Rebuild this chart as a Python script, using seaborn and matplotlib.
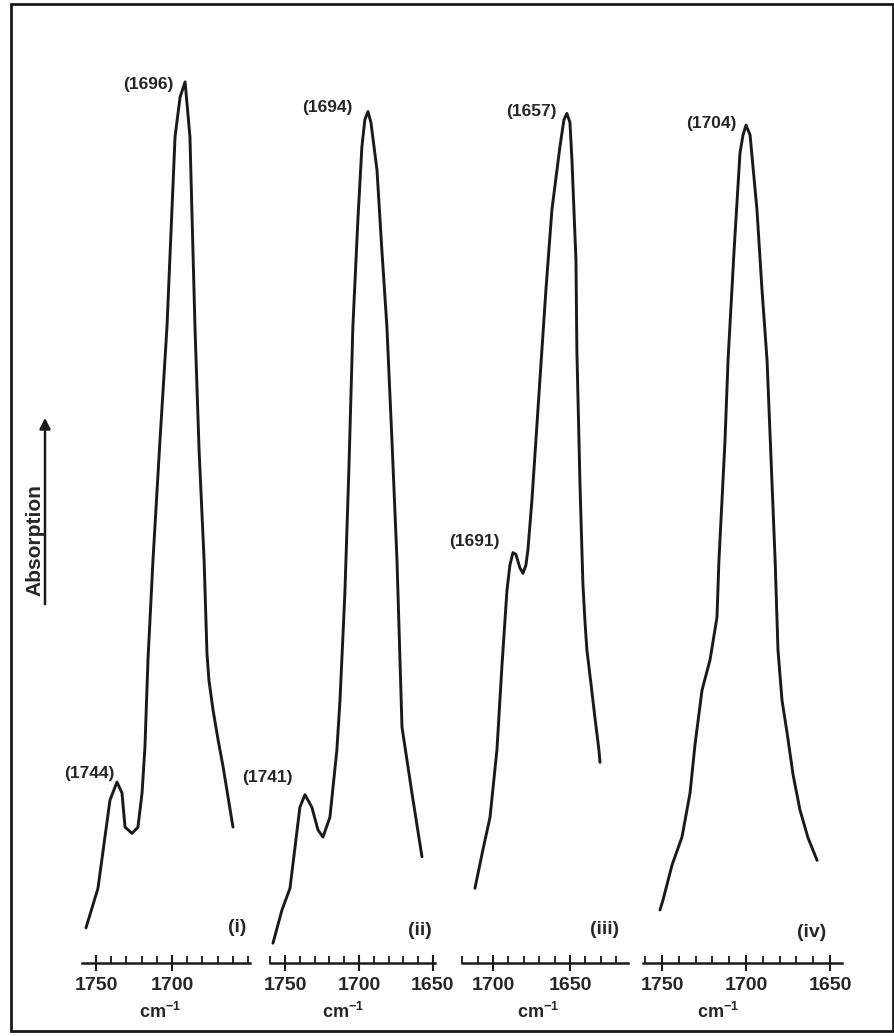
import numpy as np
import pandas as pd
import matplotlib
matplotlib.use("Agg")
import matplotlib.pyplot as plt
import seaborn as sns
from matplotlib.patches import Rectangle, FancyArrowPatch
from matplotlib.ticker import FixedLocator, MultipleLocator

# Spectra: wavenumber (cm-1) and absorption (arbitrary units, 0-100)
wn_i = [1756.6, 1748.7, 1740.8, 1736.2, 1732.9, 1730.9, 1726.3, 1722.4, 1719.7, 1717.8,
        1715.8, 1712.5, 1707.9, 1703.3, 1698.0, 1694.7, 1691.4, 1688.2, 1684.9, 1682.2,
        1678.9, 1677.0, 1675.7, 1673.0, 1669.7, 1666.4, 1659.9]
abs_i = [3.9, 8.3, 18.1, 20.1, 18.9, 15.1, 14.4, 15.1, 18.9, 24.0,
         33.7, 44.8, 58.1, 70.7, 91.8, 96.2, 97.9, 91.8, 70.7, 57.0,
         44.8, 34.4, 31.4, 28.1, 24.8, 21.8, 15.1]

wn_ii = [1758.1, 1752.0, 1746.6, 1739.9, 1736.5, 1731.8, 1727.7, 1724.3, 1719.6, 1714.9,
         1712.8, 1709.5, 1706.8, 1704.1, 1700.7, 1698.0, 1696.0, 1693.9, 1691.9, 1687.8,
         1684.5, 1681.1, 1677.7, 1674.3, 1670.9, 1664.2, 1657.4]
abs_ii = [2.2, 5.9, 8.3, 17.3, 18.7, 17.3, 14.8, 14.0, 16.2, 23.7,
          29.2, 41.1, 54.8, 70.7, 82.6, 90.7, 93.7, 94.6, 93.4, 88.1,
          79.2, 70.7, 58.1, 44.8, 26.2, 18.9, 11.8]

wn_iii = [1711.7, 1706.5, 1701.9, 1697.4, 1694.2, 1690.9, 1689.0, 1687.0, 1685.1, 1682.5,
          1680.5, 1678.6, 1677.3, 1674.7, 1669.5, 1665.6, 1661.7, 1656.5, 1653.9, 1652.0,
          1650.0, 1648.7, 1646.1, 1645.5, 1643.5, 1641.6, 1640.3, 1639.0, 1636.4, 1633.8,
          1631.2, 1630.5]
abs_iii = [8.3, 12.6, 16.2, 23.7, 32.9, 41.4, 44.2, 45.6, 45.4, 43.9,
           43.3, 44.2, 45.9, 51.4, 64.8, 74.8, 83.7, 90.7, 93.7, 94.4,
           93.4, 89.2, 78.1, 68.1, 53.3, 42.2, 38.1, 34.8, 31.1, 27.3,
           23.7, 22.3]

wn_iv = [1751.2, 1749.4, 1744.0, 1738.1, 1733.3, 1730.4, 1726.2, 1721.4, 1717.3, 1716.1,
         1714.3, 1712.5, 1710.7, 1707.1, 1703.6, 1701.8, 1700.0, 1697.6, 1693.5, 1690.5,
         1687.5, 1685.1, 1682.7, 1681.0, 1678.6, 1675.6, 1672.0, 1667.9, 1663.1, 1657.7]
abs_iv = [5.9, 7.0, 10.9, 14.0, 18.9, 24.2, 30.3, 33.7, 38.4, 44.8,
          51.4, 58.1, 67.0, 79.2, 90.0, 92.0, 93.1, 92.0, 83.7, 74.8,
          67.0, 55.9, 44.8, 34.8, 29.2, 25.6, 20.9, 17.0, 13.9, 11.4]

panel_names = ["(i)", "(ii)", "(iii)", "(iv)"]
tick_labels = [[1750, 1700], [1750, 1700, 1650], [1700, 1650], [1750, 1700, 1650]]
# peak labels: (text, wavenumber, absorption) - text placed just left of each band
peak_labels = [
    [("(1696)", 1698.7, 97.6), ("(1744)", 1737.5, 21.1)],
    [("(1694)", 1704.1, 95.0), ("(1741)", 1744.6, 20.6)],
    [("(1657)", 1658.4, 94.6), ("(1691)", 1695.5, 46.8)],
    [("(1704)", 1705.4, 93.3)],
]

spectra = [(wn_i, abs_i), (wn_ii, abs_ii), (wn_iii, abs_iii), (wn_iv, abs_iv)]

sns.set_theme(style="white")
plt.rcParams['font.family'] = ['Liberation Sans', 'DejaVu Sans']
plt.rcParams['mathtext.default'] = 'regular'

W, H = 895, 1036
fig = plt.figure(figsize=(W / 100, H / 100), dpi=100)

# panel layout in pixels: left, right, x-limits, x of the cm-1 label, panel name spot
layout = [
    (82, 250, (1759.2, 1648.7), 160, (1657.2, 3.9)),
    (270, 435, (1760.1, 1648.6), 343, (1658.8, 3.6)),
    (462, 628, (1720.1, 1612.3), 538, (1627.3, 3.7)),
    (643, 842, (1761.3, 1642.9), 718, (1660.7, 3.4)),
]
y_axis_px, y_top_px = 963, 63

for k, ((wn, ab), (x0, x1, xlim, xlab_px, name_pos)) in enumerate(zip(spectra, layout)):
    ax = fig.add_axes([x0 / W, (H - y_axis_px) / H, (x1 - x0) / W, (y_axis_px - y_top_px) / H])
    df = pd.DataFrame({"wavenumber": wn, "absorption": ab})
    sns.lineplot(data=df, x="wavenumber", y="absorption", sort=False, estimator=None,
                 color="#1a1a1a", lw=2.1, ax=ax)
    ax.set_xlim(*xlim)
    ax.set_ylim(0, 100)
    for s in ["top", "left", "right"]:
        ax.spines[s].set_visible(False)
    ax.spines["bottom"].set_linewidth(1.8)
    ax.spines["bottom"].set_color("#1a1a1a")
    ax.set_yticks([])
    ax.set_ylabel("")
    ax.xaxis.set_major_locator(FixedLocator(tick_labels[k]))
    ax.set_xticklabels([str(t) for t in tick_labels[k]])
    ax.xaxis.set_minor_locator(MultipleLocator(10))
    ax.tick_params(axis="x", which="major", direction="inout", length=12, width=1.5,
                   color="#1a1a1a", labelsize=14, pad=4, bottom=True)
    ax.tick_params(axis="x", which="minor", direction="in", length=5, width=1.3,
                   color="#1a1a1a", bottom=True)
    for lbl in ax.get_xticklabels():
        lbl.set_fontweight("bold")
    ax.set_xlabel("cm$^{-1}$", fontsize=13, fontweight="bold")
    ax.xaxis.set_label_coords((xlab_px - x0) / (x1 - x0), -0.043)
    ax.text(name_pos[0], name_pos[1], panel_names[k], fontsize=14, fontweight="bold",
            ha="center", va="center")
    for txt, px, py in peak_labels[k]:
        ax.text(px, py, txt, fontsize=12.5, fontweight="bold", ha="right", va="center")
    ax.patch.set_alpha(0)

# Absorption label and arrow
fig.text(35 / W, 1 - 540 / H, "Absorption", rotation=90, fontsize=15, fontweight="bold",
         ha="center", va="center")
arrow = FancyArrowPatch((45 / W, 1 - 607 / H), (45 / W, 1 - 415 / H), transform=fig.transFigure,
                        arrowstyle="-|>", mutation_scale=16, lw=1.8, color="#1a1a1a")
fig.patches.append(arrow)

# frame around the whole figure
frame = Rectangle((11 / W, 1 - 1031 / H), (893 - 11) / W, (1031 - 4) / H, transform=fig.transFigure,
                  fill=False, lw=2, edgecolor="#1a1a1a")
fig.patches.append(frame)

fig.savefig("out.png", dpi=100, facecolor="white")
